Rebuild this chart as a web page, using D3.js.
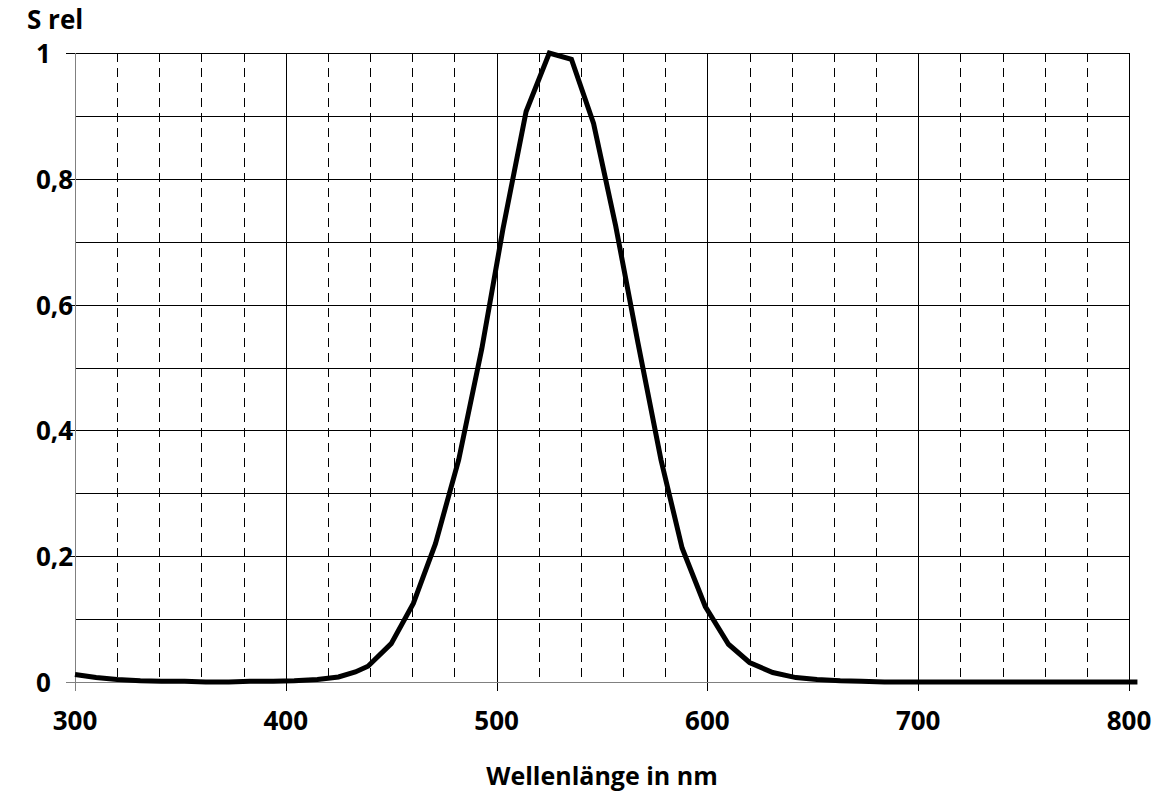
<!DOCTYPE html>
<html>
<head>
<meta charset="utf-8">
<script src="https://cdn.jsdelivr.net/npm/d3@7"></script>
<style>
  body { margin: 0; background: #fff; }
  text { font-family: "Open Sans", sans-serif; font-weight: bold; fill: #000; }
</style>
</head>
<body>
<div id="chart"></div>
<script>
// spectral sensitivity
const wavelength = [300, 310, 320, 331, 341, 352, 362, 373, 383, 394, 404, 415, 425, 433, 439, 450,
  460.5, 471, 482, 493, 503, 514, 525, 535.5, 546, 556.5, 567, 578, 588, 599, 610, 620, 631, 642,
  652, 663, 673, 684, 695, 750, 804];
const sRel = [0.012, 0.007, 0.004, 0.002, 0.001, 0.001, 0.0, 0.0, 0.001, 0.001, 0.002, 0.004, 0.008, 0.016, 0.025, 0.061,
  0.125, 0.22, 0.353, 0.53, 0.72, 0.907, 1.0, 0.99, 0.888, 0.725, 0.54, 0.353, 0.213, 0.12, 0.06, 0.031, 0.015, 0.007,
  0.004, 0.002, 0.001, 0.0, 0.0, 0.0, 0.0];
const xMajor = [300, 400, 500, 600, 700, 800];
const xMinor = d3.range(320, 800, 20).filter(v => v % 100 !== 0);
const yGrid = d3.range(1, 11).map(v => v / 10);
const yLabels = [0, 0.2, 0.4, 0.6, 0.8, 1];

const width = 1165, height = 799;
const x = d3.scaleLinear().domain([300, 800]).range([75, 1129]);
const y = d3.scaleLinear().domain([0, 1]).range([682, 53]);
const px = v => Math.round(v) + 0.5;

const svg = d3.select("#chart").append("svg")
    .attr("width", width)
    .attr("height", height);

const grid = svg.append("g").attr("shape-rendering", "crispEdges");

// dashed minor verticals
grid.selectAll(".minor").data(xMinor).enter().append("line")
    .attr("x1", d => px(x(d))).attr("x2", d => px(x(d)))
    .attr("y1", y(1)).attr("y2", y(0))
    .attr("stroke", "#000").attr("stroke-width", 1)
    .attr("stroke-dasharray", "9,6");

// horizontal grid, with ticks on the labelled ones
grid.selectAll(".hgrid").data(yGrid).enter().append("line")
    .attr("x1", d => yLabels.includes(d) ? 66 : x(300)).attr("x2", x(800))
    .attr("y1", d => px(y(d))).attr("y2", d => px(y(d)))
    .attr("stroke", "#000").attr("stroke-width", 1);

// solid major verticals, running down into ticks
grid.selectAll(".major").data(xMajor.slice(1)).enter().append("line")
    .attr("x1", d => px(x(d))).attr("x2", d => px(x(d)))
    .attr("y1", y(1)).attr("y2", y(0) + 9)
    .attr("stroke", "#000").attr("stroke-width", 1);

// axes
grid.append("line")
    .attr("x1", px(x(300))).attr("x2", px(x(300)))
    .attr("y1", y(1)).attr("y2", y(0) + 9)
    .attr("stroke", "#808080").attr("stroke-width", 1.3);
grid.append("line")
    .attr("x1", 66).attr("x2", x(800))
    .attr("y1", px(y(0))).attr("y2", px(y(0)))
    .attr("stroke", "#808080").attr("stroke-width", 1.3);

// curve
const line = d3.line().x((d, i) => x(wavelength[i])).y(d => y(d));
svg.append("path")
    .datum(sRel)
    .attr("d", line)
    .attr("fill", "none")
    .attr("stroke", "#000")
    .attr("stroke-width", 5)
    .attr("stroke-linejoin", "miter");

// y labels
svg.selectAll(".ylab").data(yLabels).enter().append("text")
    .attr("x", 36)
    .attr("y", d => y(d) + 10)
    .attr("font-size", 26)
    .text(d => d === 0 || d === 1 ? d : String(d).replace(".", ","));

// x labels
svg.selectAll(".xlab").data(xMajor).enter().append("text")
    .attr("x", d => x(d))
    .attr("y", 730)
    .attr("text-anchor", "middle")
    .attr("font-size", 26)
    .text(d => d);

svg.append("text")
    .attr("x", 27).attr("y", 29)
    .attr("font-size", 26)
    .text("S rel");

svg.append("text")
    .attr("x", (x(300) + x(800)) / 2).attr("y", 785)
    .attr("text-anchor", "middle")
    .attr("font-size", 25)
    .text("Wellenlänge in nm");
</script>
</body>
</html>
